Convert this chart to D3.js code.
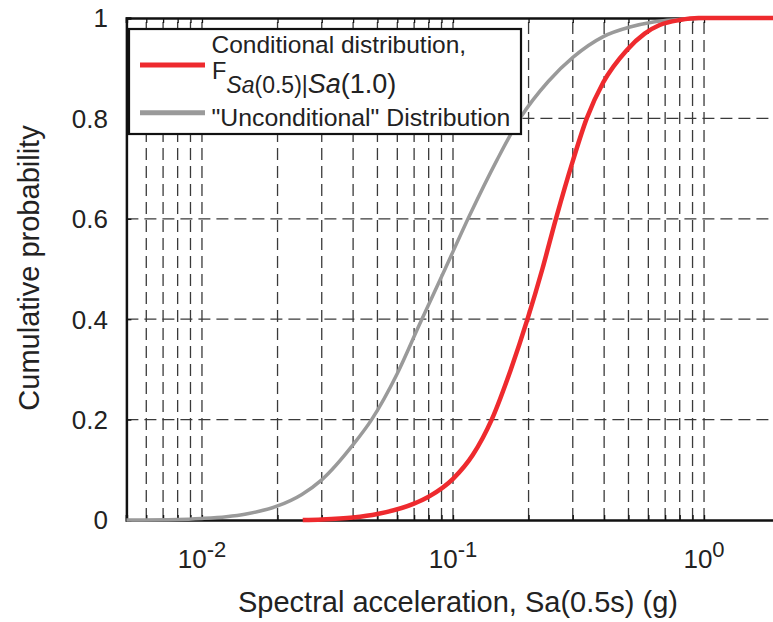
<!DOCTYPE html>
<html>
<head>
<meta charset="utf-8">
<script src="https://cdn.jsdelivr.net/npm/d3@7"></script>
<style>
  body { margin: 0; background: #fff; }
  svg { display: block; }
  text { font-family: "Liberation Sans", Arial, Helvetica, sans-serif; fill: #222; }
</style>
</head>
<body>
<svg id="chart" width="773" height="622"></svg>
<script>
// Unconditional CDF of Sa(0.5s)
const unconditionalSa = [0.005, 0.008, 0.010, 0.0125, 0.015, 0.020, 0.025, 0.030, 0.040, 0.0474, 0.060, 0.0739, 0.093, 0.116, 0.150, 0.186, 0.240, 0.301, 0.397, 0.507, 0.628, 0.853, 1.2, 2.0];
const unconditionalP  = [0.000, 0.001, 0.003, 0.0065, 0.012, 0.028, 0.051, 0.080, 0.150, 0.200, 0.292, 0.392, 0.500, 0.605, 0.718, 0.802, 0.874, 0.922, 0.963, 0.982, 0.992, 0.998, 1.000, 1.000];

// Conditional CDF F_{Sa(0.5)|Sa(1.0)}
const conditionalSa = [0.0252, 0.030, 0.040, 0.050, 0.0695, 0.081, 0.100, 0.120, 0.1426, 0.170, 0.198, 0.227, 0.257, 0.300, 0.341, 0.397, 0.492, 0.580, 0.666, 0.800, 0.950, 2.0];
const conditionalP  = [0.000, 0.001, 0.005, 0.012, 0.032, 0.048, 0.082, 0.130, 0.200, 0.300, 0.400, 0.500, 0.600, 0.715, 0.800, 0.872, 0.936, 0.969, 0.986, 0.996, 1.000, 1.000];

const probTicks = [0, 0.2, 0.4, 0.6, 0.8, 1];
const probTickLabels = ["0", "0.2", "0.4", "0.6", "0.8", "1"];
const decadeTicks = [0.01, 0.1, 1];
const decadeExponents = ["-2", "-1", "0"];

const svg = d3.select("#chart");
const plotLeft = 126.4, plotRight = 779.6, plotTop = 18, plotBottom = 520;

const x = d3.scaleLog().domain([0.005, 2]).range([plotLeft, plotRight]);
const y = d3.scaleLinear().domain([0, 1]).range([plotBottom, plotTop]);

const minorTicks = x.ticks().filter(v => v > 0.005 && v < 2);

// dashed grid
const grid = svg.append("g").attr("stroke", "#3a3a3a").attr("stroke-width", 1.3)
  .attr("stroke-dasharray", "12,6").attr("fill", "none");
grid.selectAll("line.v").data(minorTicks).join("line")
  .attr("class", "v")
  .attr("x1", d => x(d)).attr("x2", d => x(d))
  .attr("y1", plotBottom).attr("y2", plotTop);
grid.selectAll("line.h").data(probTicks.filter(p => p > 0 && p < 1)).join("line")
  .attr("class", "h")
  .attr("x1", plotLeft).attr("x2", plotRight)
  .attr("y1", d => y(d)).attr("y2", d => y(d));

// axes box with inward ticks
const axisStroke = 2.5;
const bottomAxis = d3.axisBottom(x).tickValues(minorTicks).tickSize(-5).tickFormat("");
const topAxis = d3.axisTop(x).tickValues(minorTicks).tickSize(-5).tickFormat("");
const leftAxis = d3.axisLeft(y).tickValues(probTicks).tickSize(-5).tickFormat("");

function styleAxis(g) {
  g.select(".domain").attr("stroke", "#111").attr("stroke-width", axisStroke);
  g.selectAll(".tick line").attr("stroke", "#111").attr("stroke-width", 1.3);
}
svg.append("g").attr("transform", `translate(0,${plotBottom})`).call(bottomAxis).call(styleAxis);
svg.append("g").attr("transform", `translate(0,${plotTop})`).call(topAxis).call(styleAxis);
svg.append("g").attr("transform", `translate(${plotLeft},0)`).call(leftAxis).call(styleAxis);

// probability tick labels
svg.append("g").selectAll("text").data(probTicks).join("text")
  .attr("x", 108).attr("y", d => y(d)).attr("dy", "0.36em")
  .attr("text-anchor", "end").attr("font-size", 26)
  .text((d, i) => probTickLabels[i]);

// decade tick labels 10^k
const decLabels = svg.append("g").selectAll("text").data(decadeTicks).join("text")
  .attr("x", d => x(d)).attr("y", 568)
  .attr("text-anchor", "middle").attr("font-size", 26);
decLabels.append("tspan").text("10");
decLabels.append("tspan").attr("dy", -11.5).attr("font-size", 22).text((d, i) => decadeExponents[i]);

// axis titles
svg.append("text").attr("x", 458).attr("y", 612).attr("text-anchor", "middle")
  .attr("font-size", 29).text("Spectral acceleration, Sa(0.5s) (g)");
svg.append("text").attr("transform", "translate(38.5,268) rotate(-90)")
  .attr("text-anchor", "middle").attr("font-size", 29).text("Cumulative probability");

// CDF curves
const line = d3.line().x(d => x(d[0])).y(d => y(d[1])).curve(d3.curveMonotoneX);
svg.append("path")
  .datum(unconditionalSa.map((s, i) => [s, unconditionalP[i]]))
  .attr("d", line).attr("fill", "none").attr("stroke", "#9a9a9a").attr("stroke-width", 3.5);
svg.append("path")
  .datum(conditionalSa.map((s, i) => [s, conditionalP[i]]))
  .attr("d", line).attr("fill", "none").attr("stroke", "#ee2a2e").attr("stroke-width", 4.5);

// legend
const legend = svg.append("g");
legend.append("rect").attr("x", 129).attr("y", 29).attr("width", 392).attr("height", 105)
  .attr("fill", "#fff").attr("stroke", "#111").attr("stroke-width", 2.2);
legend.append("line").attr("x1", 140).attr("x2", 205).attr("y1", 65).attr("y2", 65)
  .attr("stroke", "#ee2a2e").attr("stroke-width", 5);
legend.append("line").attr("x1", 140).attr("x2", 205).attr("y1", 112.7).attr("y2", 112.7)
  .attr("stroke", "#9a9a9a").attr("stroke-width", 5);
legend.append("text").attr("x", 211.5).attr("y", 53.3).attr("font-size", 24.5)
  .text("Conditional distribution,");
const f = legend.append("text").attr("x", 212).attr("y", 79.3).attr("font-size", 23.5);
f.append("tspan").text("F");
f.append("tspan").attr("dy", 14).attr("font-size", 23).attr("font-style", "italic").text("Sa");
f.append("tspan").attr("font-size", 23).text("(0.5)|");
f.append("tspan").attr("font-size", 27).attr("font-style", "italic").text("Sa");
f.append("tspan").attr("font-size", 27).text("(1.0)");
legend.append("text").attr("x", 211.5).attr("y", 125.5).attr("font-size", 24.8)
  .text("\"Unconditional\" Distribution");
</script>
</body>
</html>
